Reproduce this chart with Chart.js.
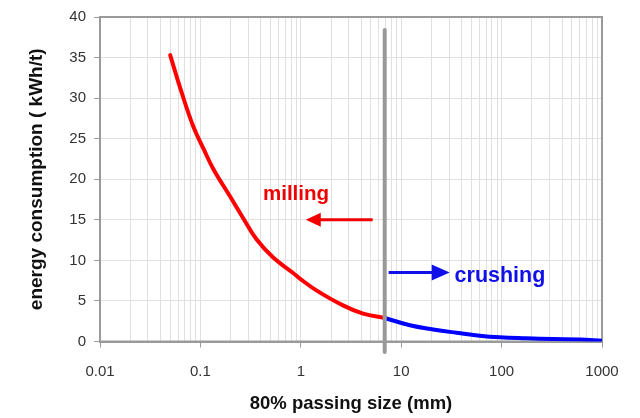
<!DOCTYPE html>
<html>
<head>
<meta charset="utf-8">
<script src="https://cdn.jsdelivr.net/npm/chart.js@4.4.1/dist/chart.umd.min.js"></script>
<style>
html,body{margin:0;padding:0;background:#fff;}
#wrap{width:640px;height:418px;position:relative;}
</style>
</head>
<body>
<div id="wrap"><canvas id="c"></canvas></div>
<script>
// ---- data ----
const millingSize   = [0.05, 0.065, 0.085, 0.107, 0.134, 0.197, 0.267, 0.362, 0.531, 0.838, 0.98, 1.43, 2.63, 4.17, 6.85];
const millingEnergy = [35.3, 30.7, 26.5, 23.8, 21.3, 17.9, 15.2, 12.6, 10.35, 8.45, 7.75, 6.3, 4.45, 3.44, 2.9];
const crushingSize   = [6.85, 12.2, 20.8, 35.4, 60.4, 95.6, 176, 324, 597, 1000];
const crushingEnergy = [2.9, 2.0, 1.49, 1.08, 0.71, 0.51, 0.39, 0.30, 0.25, 0.1];
const boundarySize = [6.85, 6.85];
const boundaryEnergy = [-1.3, 38.4];
const xTickLabels = ['0.01', '0.1', '1', '10', '100', '1000'];
const yTickLabels = ['0', '5', '10', '15', '20', '25', '30', '35', '40'];
const xTitle = '80% passing size (mm)';
const yTitle = 'energy consumption ( kWh/t)';
const millingText = 'milling';
const crushingText = 'crushing';

const pts = (xs, ys) => xs.map((x, i) => ({x: x, y: ys[i]}));
const majorVals = xTickLabels.map(Number);
const isMajor = v => majorVals.some(m => Math.abs(v - m) / m < 1e-6);

// annotation geometry in data units
const notes = {
  millingLabel: {x: 0.42, y: 18.1},
  millingArrow: {x0: 5.2, x1: 1.12, y: 15},
  crushingArrow: {x0: 7.5, x1: 30.4, y: 8.5},
  crushingLabel: {x: 34, y: 8.1}
};

function arrow(ctx, x0, x1, y, color, headLen, headHalf, lw) {
  const dir = Math.sign(x1 - x0);
  ctx.save();
  ctx.strokeStyle = color; ctx.fillStyle = color; ctx.lineWidth = lw;
  ctx.beginPath(); ctx.moveTo(x0, y); ctx.lineTo(x1 - dir * headLen * 0.8, y); ctx.stroke();
  ctx.beginPath();
  ctx.moveTo(x1, y);
  ctx.lineTo(x1 - dir * headLen, y - headHalf);
  ctx.lineTo(x1 - dir * headLen, y + headHalf);
  ctx.closePath(); ctx.fill();
  ctx.restore();
}

const annotPlugin = {
  id: 'annot',
  beforeDatasetsDraw(chart) {
    const {ctx, chartArea: a} = chart;
    ctx.save();
    ctx.strokeStyle = '#9a9a9a'; ctx.lineWidth = 2;
    ctx.strokeRect(a.left, a.top, a.right - a.left, a.bottom - a.top);
    ctx.restore();
  },
  afterDatasetsDraw(chart) {
    const {ctx} = chart;
    const xs = chart.scales.x, ys = chart.scales.y;
    const n = notes;
    ctx.save();
    ctx.textBaseline = 'middle'; ctx.textAlign = 'left';
    ctx.font = 'bold 20.5px "Liberation Sans", Arial, sans-serif';
    ctx.fillStyle = '#f00000';
    ctx.fillText(millingText, xs.getPixelForValue(n.millingLabel.x), ys.getPixelForValue(n.millingLabel.y));
    ctx.font = 'bold 21.5px "Liberation Sans", Arial, sans-serif';
    ctx.fillStyle = '#1010e8';
    ctx.fillText(crushingText, xs.getPixelForValue(n.crushingLabel.x), ys.getPixelForValue(n.crushingLabel.y));
    ctx.restore();
    arrow(ctx, xs.getPixelForValue(n.millingArrow.x0), xs.getPixelForValue(n.millingArrow.x1),
          ys.getPixelForValue(n.millingArrow.y), '#f00000', 15, 7, 3);
    arrow(ctx, xs.getPixelForValue(n.crushingArrow.x0), xs.getPixelForValue(n.crushingArrow.x1),
          ys.getPixelForValue(n.crushingArrow.y), '#1010e8', 18, 8, 3);
  }
};

new Chart(document.getElementById('c'), {
  type: 'line',
  data: {
    datasets: [
      {data: pts(boundarySize, boundaryEnergy), borderColor: '#999999', borderWidth: 4, pointRadius: 0, clip: false, borderCapStyle: 'round'},
      {data: pts(millingSize, millingEnergy), borderColor: '#ff0000', borderWidth: 4, pointRadius: 0, tension: 0.4, borderCapStyle: 'round'},
      {data: pts(crushingSize, crushingEnergy), borderColor: '#0000ff', borderWidth: 4, pointRadius: 0, tension: 0.4, borderCapStyle: 'round'}
    ]
  },
  options: {
    responsive: true,
    maintainAspectRatio: false,
    animation: false,
    layout: {padding: {top: 15, right: 38, bottom: 1, left: 0}},
    plugins: {legend: {display: false}, tooltip: {enabled: false}},
    scales: {
      x: {
        type: 'logarithmic',
        min: 0.01, max: 1000,
        afterBuildTicks(scale) {
          const t = [];
          for (let d = 0; d < majorVals.length; d++) {
            const base = majorVals[d];
            t.push({value: base});
            if (d < majorVals.length - 1) {
              for (let k = 2; k <= 9; k++) t.push({value: +(base * k).toPrecision(6)});
            }
          }
          scale.ticks = t;
        },
        afterFit(scale) { scale.height = 75.5; },
        grid: {
          color: '#e0e0e0', lineWidth: 1, tickLength: 6,
          tickColor: c => (c.tick && isMajor(c.tick.value)) ? '#9a9a9a' : 'rgba(0,0,0,0)'
        },
        border: {color: '#9a9a9a', width: 2},
        ticks: {
          autoSkip: false, maxRotation: 0, padding: 15, color: '#333',
          font: {family: '"Liberation Sans", Arial, sans-serif', size: 15},
          callback: function (v) {
            const i = majorVals.findIndex(m => Math.abs(v - m) / m < 1e-6);
            return i >= 0 ? xTickLabels[i] : '';
          }
        },
        title: {
          display: true, text: xTitle, color: '#111',
          font: {family: '"Liberation Sans", Arial, sans-serif', size: 18.5, weight: 'bold'},
          padding: {top: 0, bottom: 2}
        }
      },
      y: {
        min: 0, max: 40,
        afterBuildTicks(scale) { scale.ticks = yTickLabels.map(s => ({value: Number(s)})); },
        afterFit(scale) { scale.width = 100; },
        grid: {color: '#e0e0e0', lineWidth: 1, tickLength: 6, tickColor: '#9a9a9a'},
        border: {color: '#9a9a9a', width: 2},
        ticks: {
          padding: 8, color: '#333',
          font: {family: '"Liberation Sans", Arial, sans-serif', size: 15},
          callback: (v) => yTickLabels[yTickLabels.indexOf(String(v))] ?? ''
        },
        title: {
          display: true, text: yTitle, color: '#111',
          font: {family: '"Liberation Sans", Arial, sans-serif', size: 19, weight: 'bold'},
          padding: {top: 25, bottom: 0}
        }
      }
    }
  },
  plugins: [annotPlugin]
});
</script>
</body>
</html>
